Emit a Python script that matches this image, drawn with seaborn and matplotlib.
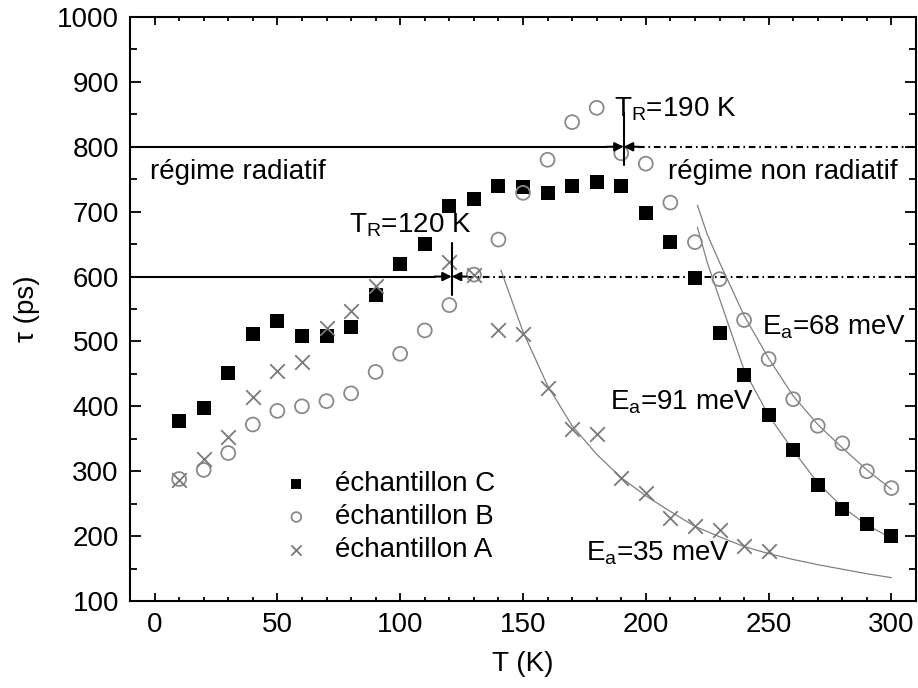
"""Durée de vie tau(T) des trois échantillons, régimes radiatif / non radiatif."""

import matplotlib
matplotlib.use("Agg")
import matplotlib.pyplot as plt
import seaborn as sns

# --- données ---
T_C = [10, 20, 30, 40, 50, 60, 70, 80, 90, 100, 110, 120, 130, 140, 150,
       160, 170, 180, 190, 200, 210, 220, 230, 240, 250, 260, 270, 280, 290, 300]
tau_C = [377, 397, 452, 512, 531, 508, 508, 523, 571, 620, 650, 709, 720, 740, 738,
         728, 740, 746, 740, 698, 654, 598, 513, 448, 386, 333, 279, 242, 218, 200]

T_B = [10, 20, 30, 40, 50, 60, 70, 80, 90, 100, 110, 120, 130, 140, 150,
       160, 170, 180, 190, 200, 210, 220, 230, 240, 250, 260, 270, 280, 290, 300]
tau_B = [288, 302, 328, 372, 393, 400, 408, 420, 453, 481, 517, 556, 603, 657, 729,
         780, 838, 860, 790, 774, 714, 653, 596, 533, 473, 411, 370, 343, 300, 274]

T_A = [10, 20, 30, 40, 50, 60, 70, 80, 90, 120, 130, 140, 150, 160, 170, 180,
       190, 200, 210, 220, 230, 240, 250]
tau_A = [287, 319, 352, 414, 455, 469, 521, 547, 586, 623, 603, 517, 512, 428, 365, 358,
         289, 266, 228, 215, 210, 184, 177]

# ajustements (activation thermique), relevés point par point
fit35_T = [141, 150, 160, 170, 180, 190, 200, 210, 220, 230, 240, 250, 260, 270, 280, 290, 300]
fit35_tau = [610, 515, 432, 370, 326, 290, 262, 238, 215, 199, 184, 173, 164, 156, 149, 142, 136]
fit68_T = [221, 225, 230, 240, 250, 260, 270, 280, 290, 300]
fit68_tau = [710, 665, 622, 540, 474, 416, 372, 336, 302, 272]
fit91_T = [221, 225, 230, 240, 250, 260, 270, 280, 290, 300]
fit91_tau = [676, 622, 566, 456, 386, 332, 282, 245, 217, 197]

# températures de transition
T_R = [120, 190]
tau_R = [600, 800]

sns.set_style("ticks")
plt.rcParams["font.family"] = ["Liberation Sans", "DejaVu Sans"]
plt.rcParams["mathtext.fontset"] = "custom"
plt.rcParams["mathtext.rm"] = "Liberation Sans"
plt.rcParams["mathtext.it"] = "Liberation Sans:italic"
for key in ["text.color", "axes.labelcolor", "xtick.color", "ytick.color", "axes.edgecolor"]:
    plt.rcParams[key] = "black"
FS = 20

fig = plt.figure(figsize=(9.18, 6.88), dpi=100)
ax = fig.add_axes([130 / 918, 1 - 601 / 688, 786 / 918, 584 / 688])

GRAY_FIT = "#808080"
for xs, ys in [(fit35_T, fit35_tau), (fit68_T, fit68_tau), (fit91_T, fit91_tau)]:
    sns.lineplot(x=xs, y=ys, color=GRAY_FIT, linewidth=0.9, ax=ax, zorder=2)

# lignes de séparation des régimes
dashdot = (0, (3.2, 1.8, 0.8, 1.8))
for tr, yr in zip(T_R, tau_R):
    ax.plot([-10, tr - 6], [yr, yr], color="black", lw=1.5, zorder=1)
    ax.plot([tr + 7, 310], [yr, yr], color="black", lw=1.5, linestyle=dashdot, zorder=1)
    ax.plot([tr + 1, tr + 1], [yr - 28, yr + 52], color="black", lw=1.5, zorder=5)
    for x0 in (tr - 6, tr + 7):
        ax.annotate("", xy=(tr + 1, yr), xytext=(x0, yr),
                    arrowprops=dict(arrowstyle="-|>", color="black", lw=1.5,
                                    mutation_scale=13, shrinkA=0, shrinkB=0),
                    zorder=5)

sns.scatterplot(x=T_C, y=tau_C, marker="s", s=110, color="black", edgecolor="black",
                linewidth=0, label="échantillon C", ax=ax, zorder=4)
sns.scatterplot(x=T_B, y=tau_B, marker="o", s=100, facecolor="none", edgecolor="#8a8a8a",
                linewidth=1.3, label="échantillon B", ax=ax, zorder=4)
sns.scatterplot(x=T_A, y=tau_A, marker="x", s=110, color="#7a7a7a",
                linewidth=1.3, label="échantillon A", ax=ax, zorder=4)

ax.set_xlim(-10, 310)
ax.set_ylim(100, 1000)
ax.set_xticks([0, 50, 100, 150, 200, 250, 300])
ax.set_xticks(range(-10, 311, 10), minor=True)
ax.set_yticks(range(100, 1001, 100))
ax.set_yticks(range(150, 1000, 100), minor=True)
ax.tick_params(axis="both", which="both", direction="in", top=True, right=True,
               labelsize=FS, pad=8, width=1.3)
ax.tick_params(axis="x", which="major", length=6)
ax.tick_params(axis="x", which="minor", length=3)
ax.tick_params(axis="y", which="major", length=8)
ax.tick_params(axis="y", which="minor", length=5)
for sp in ax.spines.values():
    sp.set_linewidth(1.5)

ax.set_xlabel("T (K)", fontsize=FS, labelpad=9)
ax.set_ylabel("τ (ps)", fontsize=FS, labelpad=12)

# textes
ax.text(-2, 750, "régime radiatif", fontsize=FS, va="baseline")
ax.text(209, 750, "régime non radiatif", fontsize=FS, va="baseline")
ax.text(187, 846, r"T$_\mathrm{R}$=190 K", fontsize=FS, va="baseline")
ax.text(79, 668, r"T$_\mathrm{R}$=120 K", fontsize=FS, va="baseline")
ax.text(247.5, 511, r"E$_\mathrm{a}$=68 meV", fontsize=FS, va="baseline")
ax.text(185.5, 395, r"E$_\mathrm{a}$=91 meV", fontsize=FS, va="baseline")
ax.text(175.5, 162, r"E$_\mathrm{a}$=35 meV", fontsize=FS, va="baseline")

handles, labels = ax.get_legend_handles_labels()
order = [labels.index(l) for l in ["échantillon C", "échantillon B", "échantillon A"]]
ax.legend([handles[i] for i in order], [labels[i] for i in order],
          loc="upper left", bbox_to_anchor=(0.194, 0.222), frameon=False,
          fontsize=FS, markerscale=0.7, handlelength=1.0, handletextpad=0.9,
          borderpad=0, borderaxespad=0, labelspacing=0.25)

fig.savefig("out.png", dpi=100)
